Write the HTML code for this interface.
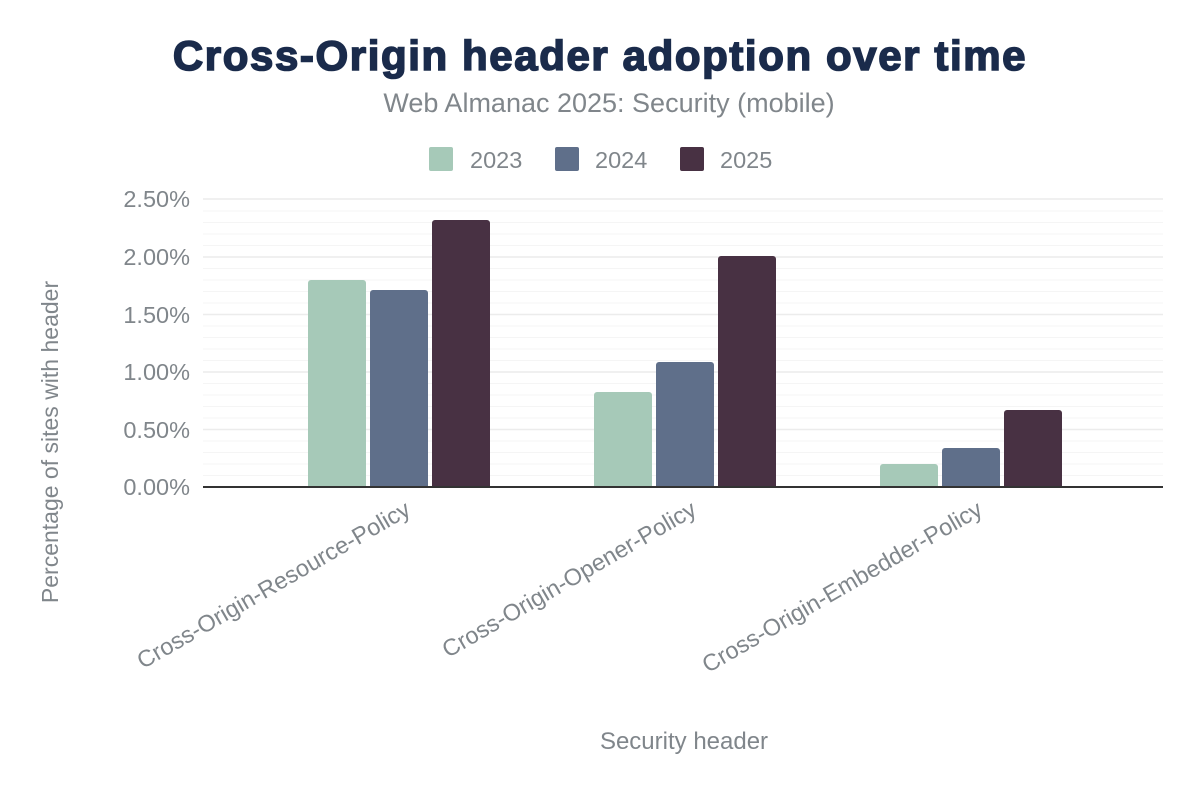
<!DOCTYPE html>
<html><head><meta charset="utf-8"><style>body{margin:0;background:#fff}svg{display:block}text{font-family:"Liberation Sans",Arial,sans-serif}</style></head>
<body>
<svg width="1200" height="802" viewBox="0 0 1200 802" xmlns="http://www.w3.org/2000/svg">
<rect width="1200" height="802" fill="#fff"/>
<text x="600" y="70" text-anchor="middle" font-size="42" font-weight="bold" letter-spacing="1.6" fill="#1a2b4b" stroke="#1a2b4b" stroke-width="1.6">Cross-Origin header adoption over time</text>
<text x="609" y="112" text-anchor="middle" font-size="27" fill="#80868b">Web Almanac 2025: Security (mobile)</text>
<rect x="429" y="147" width="24" height="24" rx="2" fill="#a6c9b8"/>
<text x="470" y="168" font-size="23.5" fill="#80868b">2023</text>
<rect x="555" y="147" width="24" height="24" rx="2" fill="#5f6f8a"/>
<text x="595" y="168" font-size="23.5" fill="#80868b">2024</text>
<rect x="680" y="147" width="24" height="24" rx="2" fill="#483143"/>
<text x="720" y="168" font-size="23.5" fill="#80868b">2025</text>
<g stroke="#f5f5f5" stroke-width="1">
<line x1="203" x2="1163" y1="475.5" y2="475.5"/><line x1="203" x2="1163" y1="464" y2="464"/><line x1="203" x2="1163" y1="452.5" y2="452.5"/><line x1="203" x2="1163" y1="441" y2="441"/>
<line x1="203" x2="1163" y1="418" y2="418"/><line x1="203" x2="1163" y1="406.5" y2="406.5"/><line x1="203" x2="1163" y1="395" y2="395"/><line x1="203" x2="1163" y1="383.5" y2="383.5"/>
<line x1="203" x2="1163" y1="360.5" y2="360.5"/><line x1="203" x2="1163" y1="349" y2="349"/><line x1="203" x2="1163" y1="337.5" y2="337.5"/><line x1="203" x2="1163" y1="326" y2="326"/>
<line x1="203" x2="1163" y1="303" y2="303"/><line x1="203" x2="1163" y1="291.5" y2="291.5"/><line x1="203" x2="1163" y1="280" y2="280"/><line x1="203" x2="1163" y1="268.5" y2="268.5"/>
<line x1="203" x2="1163" y1="245.5" y2="245.5"/><line x1="203" x2="1163" y1="234" y2="234"/><line x1="203" x2="1163" y1="222.5" y2="222.5"/><line x1="203" x2="1163" y1="211" y2="211"/>
</g>
<g stroke="#ececec" stroke-width="1.5">
<line x1="203" x2="1163" y1="429.5" y2="429.5"/><line x1="203" x2="1163" y1="372" y2="372"/><line x1="203" x2="1163" y1="314.5" y2="314.5"/><line x1="203" x2="1163" y1="257" y2="257"/><line x1="203" x2="1163" y1="199" y2="199"/>
</g>
<g font-size="23.5" fill="#80868b" text-anchor="end">
<text x="190" y="495">0.00%</text><text x="190" y="438">0.50%</text><text x="190" y="380">1.00%</text><text x="190" y="323">1.50%</text><text x="190" y="265">2.00%</text><text x="190" y="207">2.50%</text>
</g>
<g>
<path d="M308 487V283a3 3 0 0 1 3-3h52a3 3 0 0 1 3 3V487Z" fill="#a6c9b8"/>
<path d="M370 487V293a3 3 0 0 1 3-3h52a3 3 0 0 1 3 3V487Z" fill="#5f6f8a"/>
<path d="M432 487V223a3 3 0 0 1 3-3h52a3 3 0 0 1 3 3V487Z" fill="#483143"/>
<path d="M594 487V395a3 3 0 0 1 3-3h52a3 3 0 0 1 3 3V487Z" fill="#a6c9b8"/>
<path d="M656 487V365a3 3 0 0 1 3-3h52a3 3 0 0 1 3 3V487Z" fill="#5f6f8a"/>
<path d="M718 487V259a3 3 0 0 1 3-3h52a3 3 0 0 1 3 3V487Z" fill="#483143"/>
<path d="M880 487V467a3 3 0 0 1 3-3h52a3 3 0 0 1 3 3V487Z" fill="#a6c9b8"/>
<path d="M942 487V451a3 3 0 0 1 3-3h52a3 3 0 0 1 3 3V487Z" fill="#5f6f8a"/>
<path d="M1004 487V413a3 3 0 0 1 3-3h52a3 3 0 0 1 3 3V487Z" fill="#483143"/>
</g>
<line x1="203" x2="1163" y1="487" y2="487" stroke="#333" stroke-width="2"/>
<g font-size="23.5" fill="#80868b" text-anchor="end">
<text transform="translate(412,514) rotate(-30)">Cross-Origin-Resource-Policy</text>
<text transform="translate(698,514) rotate(-30)">Cross-Origin-Opener-Policy</text>
<text transform="translate(984,514) rotate(-30)">Cross-Origin-Embedder-Policy</text>
</g>
<text x="684" y="749" text-anchor="middle" font-size="24" fill="#80868b">Security header</text>
<text transform="translate(58,442) rotate(-90)" text-anchor="middle" font-size="23" fill="#80868b">Percentage of sites with header</text>
</svg>
</body></html>
